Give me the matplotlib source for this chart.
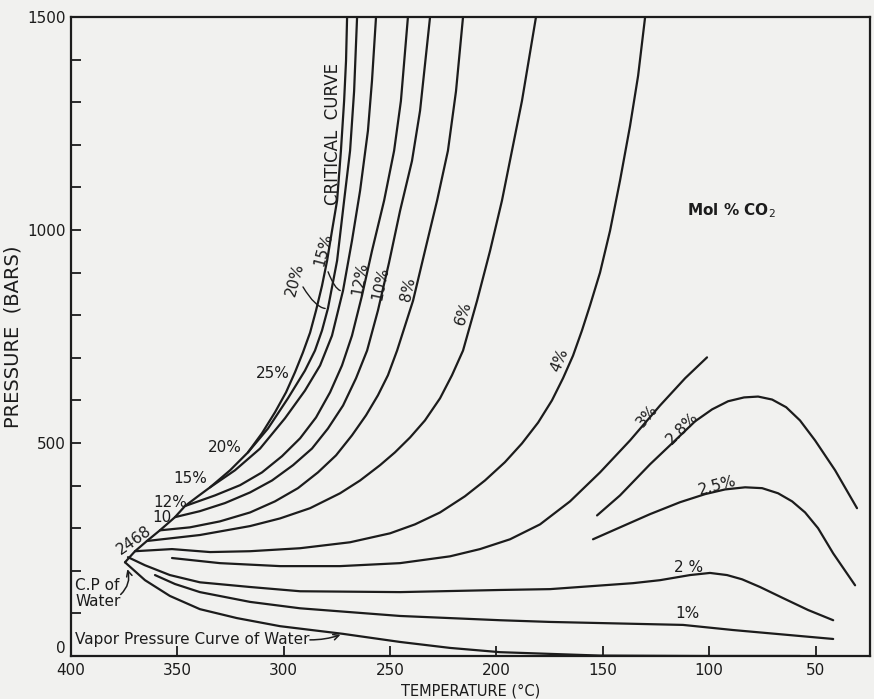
import matplotlib
matplotlib.use("Agg")
import matplotlib.pyplot as plt
from matplotlib.ticker import MultipleLocator

# -------------------------
# Curves: T (deg C), P (bars)
# -------------------------
crit_T = [374.6, 369.9, 364.3, 358.2, 351.1, 346.4, 340.3, 334.6, 325.2, 316.8, 310.2, 304.1, 298.9,
          294.7, 291.0, 287.6, 284.8, 282.0, 279.6, 277.3, 274.9, 273.1, 271.6, 270.7, 270.2]
crit_P = [220, 246, 270, 295, 326, 352, 375, 396, 436, 478, 523, 572, 619,
          666, 712, 759, 811, 869, 928, 998, 1069, 1186, 1303, 1397, 1500]

iso20_T = [316.8, 307.4, 298.0, 290.0, 285.3, 282.0, 279.2, 274.9, 271.6, 268.8, 266.9, 265.5]
iso20_P = [478, 534, 605, 670, 717, 764, 816, 928, 1069, 1186, 1326, 1500]

iso15_T = [334.6, 322.9, 311.1, 299.4, 290.0, 282.9, 277.3, 272.1, 267.9, 264.1, 260.4, 258.5, 256.6]
iso15_P = [396, 436, 487, 558, 623, 682, 752, 858, 975, 1092, 1233, 1350, 1500]

iso12_T = [346.4, 332.3, 320.5, 310.2, 300.8, 292.3, 284.8, 278.2, 272.6, 267.9, 263.2, 258.5, 252.8, 248.1, 244.9, 241.6]
iso12_P = [352, 377, 401, 431, 469, 511, 560, 619, 682, 752, 846, 951, 1069, 1186, 1303, 1500]

iso10_T = [351.1, 339.4, 327.6, 315.8, 305.5, 295.6, 286.7, 279.2, 272.1, 266.0, 260.8, 255.7, 250.5, 245.3, 239.7, 235.9, 231.2]
iso10_P = [326, 340, 359, 384, 412, 448, 487, 534, 588, 652, 717, 811, 923, 1045, 1162, 1280, 1500]

iso8_T = [358.2, 344.1, 330.0, 315.8, 304.1, 293.3, 283.9, 275.4, 267.9, 261.3, 255.7, 251.0, 246.7, 239.2, 233.6, 227.9, 222.8, 219.0, 215.7]
iso8_P = [295, 302, 316, 337, 363, 394, 431, 471, 518, 565, 612, 659, 717, 834, 951, 1069, 1186, 1326, 1500]

iso6_T = [364.3, 339.4, 315.8, 301.7, 287.6, 273.5, 264.1, 254.7, 247.7, 240.6, 233.6, 226.5, 220.9, 215.7, 209.1, 203.0, 197.4, 192.7, 188.0, 181.4]
iso6_P = [270, 284, 305, 323, 347, 382, 412, 448, 478, 513, 553, 605, 659, 717, 834, 951, 1069, 1186, 1303, 1500]

iso4_T = [369.9, 352.5, 334.6, 315.8, 292.3, 268.8, 250.0, 238.3, 226.5, 214.8, 205.4, 196.0, 188.0, 180.4, 173.9,
          168.7, 164.0, 159.8, 156.0, 151.3, 146.6, 141.9, 137.2, 133.4, 130.1]
iso4_P = [246, 251, 244, 246, 253, 267, 288, 309, 337, 375, 412, 455, 499, 548, 600,
          652, 705, 764, 823, 900, 998, 1116, 1244, 1362, 1500]

iso3_T = [352.5, 330.0, 301.7, 273.5, 245.3, 221.8, 207.7, 193.6, 179.5, 165.4, 151.3, 137.2, 123.1, 111.3, 101.0]
iso3_P = [230, 218, 211, 211, 218, 234, 251, 274, 309, 363, 431, 506, 588, 652, 701]

iso28_T = [152.7, 141.9, 127.8, 116.0, 106.6, 98.6, 91.1, 83.6, 77.0, 70.4, 63.8, 57.3, 50.2, 40.8, 30.5]
iso28_P = [330, 377, 450, 506, 551, 579, 598, 607, 609, 602, 584, 553, 506, 436, 347]

iso25_T = [154.6, 141.9, 127.8, 113.7, 101.9, 92.5, 83.1, 75.1, 67.6, 61.0, 54.9, 48.8, 41.7, 31.4]
iso25_P = [274, 302, 333, 361, 380, 391, 396, 394, 382, 363, 337, 300, 241, 166]

iso2_T = [373.2, 365.2, 353.5, 339.4, 315.8, 292.3, 245.3, 198.3, 174.8, 135.8, 123.1, 109.0, 99.6, 91.6, 84.5, 76.1, 65.3, 53.5, 41.7]
iso2_P = [232, 213, 190, 173, 162, 152, 150, 155, 157, 171, 178, 190, 195, 190, 180, 162, 136, 108, 84]

iso1_T = [360.5, 351.1, 339.4, 315.8, 292.3, 245.3, 198.3, 174.8, 112.3, 88.8, 41.7]
iso1_P = [190, 169, 150, 127, 112, 94, 84, 80, 73, 61, 40]

vap_T = [374.6, 365.2, 353.5, 339.4, 322.0, 301.7, 272.1, 245.3, 221.8, 198.3, 174.8, 151.3, 104.3, 57.3]
vap_P = [220, 178, 141, 110, 89, 70, 52, 33, 19, 9, 5, 1, 0, 0]

x_ticks = [400, 350, 300, 250, 200, 150, 100, 50]
y_ticks = [0, 500, 1000, 1500]

curves = [
    (crit_T, crit_P), (iso20_T, iso20_P), (iso15_T, iso15_P), (iso12_T, iso12_P),
    (iso10_T, iso10_P), (iso8_T, iso8_P), (iso6_T, iso6_P), (iso4_T, iso4_P),
    (iso3_T, iso3_P), (iso28_T, iso28_P), (iso25_T, iso25_P), (iso2_T, iso2_P),
    (iso1_T, iso1_P), (vap_T, vap_P),
]

INK = "#1c1c1c"
PAPER = "#f1f1ef"

fig = plt.figure(figsize=(8.74, 6.99), dpi=100, facecolor=PAPER)
ax = fig.add_axes([0.0812, 0.0615, 0.9142, 0.9142], facecolor=PAPER)

for t, p in curves:
    ax.plot(t, p, color=INK, lw=1.6, solid_capstyle="round", solid_joinstyle="round")

ax.set_xlim(400, 24.4)
ax.set_ylim(0, 1500)
ax.set_xticks(x_ticks)
ax.set_yticks(y_ticks)
ax.yaxis.set_minor_locator(MultipleLocator(100))
ax.tick_params(which="both", direction="in", length=7, width=1.3, colors=INK,
               labelsize=11, pad=4)
ax.tick_params(axis="x", pad=5)
ax.yaxis.get_major_ticks()[0].label1.set_verticalalignment("bottom")
for s in ax.spines.values():
    s.set_linewidth(1.6)
    s.set_color(INK)

ax.set_xlabel("TEMPERATURE (\u00b0C)", fontsize=10.5, color=INK, labelpad=4)
ax.set_ylabel("PRESSURE  (BARS)", fontsize=14, color=INK, labelpad=3)

# -------------------------
# Labels on the curves
# -------------------------
txt = dict(color=INK, ha="center", va="center", fontsize=11)

ax.text(276.8, 1226, "CRITICAL  CURVE", rotation=90, **dict(txt, fontsize=12))
ax.text(89.7, 1045, "Mol % CO$_2$", fontweight="bold", **txt)

ax.text(110.4, 100, "1%", **txt)
ax.text(109.9, 208, "2 %", **txt)
ax.text(96.3, 400, "2.5%", rotation=15, **txt)
ax.text(112.7, 534, "2.8%", rotation=45, **txt)
ax.text(129.2, 564, "3%", rotation=50, **txt)
ax.text(170.1, 694, "4%", rotation=68, **txt)
ax.text(215.7, 804, "6%", rotation=72, **txt)
ax.text(241.6, 862, "8%", rotation=78, **txt)
ax.text(254.7, 874, "10%", rotation=78, **txt)
ax.text(264.1, 886, "12%", rotation=80, **txt)
ax.text(281.5, 955, "15%", rotation=75, **txt)
ax.text(294.7, 885, "20%", rotation=75, **txt)

ax.text(305.0, 663, "25%", **txt)
ax.text(327.6, 490, "20%", **txt)
ax.text(344.1, 417, "15%", **txt)
ax.text(353.5, 361, "12%", **txt)
ax.text(357.2, 326, "10", **txt)
ax.text(370.4, 272, "2468", rotation=35, **txt)

# leaders for the upper 20% / 15% labels
ax.annotate("", xy=(279.2, 816), xytext=(291.6, 872),
            arrowprops=dict(arrowstyle="-", color=INK, lw=1.0,
                            connectionstyle="angle3,angleA=-60,angleB=10"))
ax.annotate("", xy=(272.1, 858), xytext=(279.6, 908),
            arrowprops=dict(arrowstyle="-", color=INK, lw=1.0,
                            connectionstyle="angle3,angleA=-70,angleB=20"))

ax.text(398.0, 146, "C.P of\nWater", ha="left", va="center", fontsize=11,
        color=INK, linespacing=1.1)
ax.annotate("", xy=(373.9, 210), xytext=(377.6, 140),
            arrowprops=dict(arrowstyle="->", color=INK, lw=1.1,
                            connectionstyle="arc3,rad=0.35"))

ax.text(398.0, 38, "Vapor Pressure Curve of Water", ha="left", va="center",
        fontsize=11, color=INK)
ax.annotate("", xy=(272.1, 52), xytext=(289.0, 38),
            arrowprops=dict(arrowstyle="->", color=INK, lw=1.1,
                            connectionstyle="arc3,rad=0.1"))

fig.savefig("out.png", dpi=100, facecolor=PAPER)
